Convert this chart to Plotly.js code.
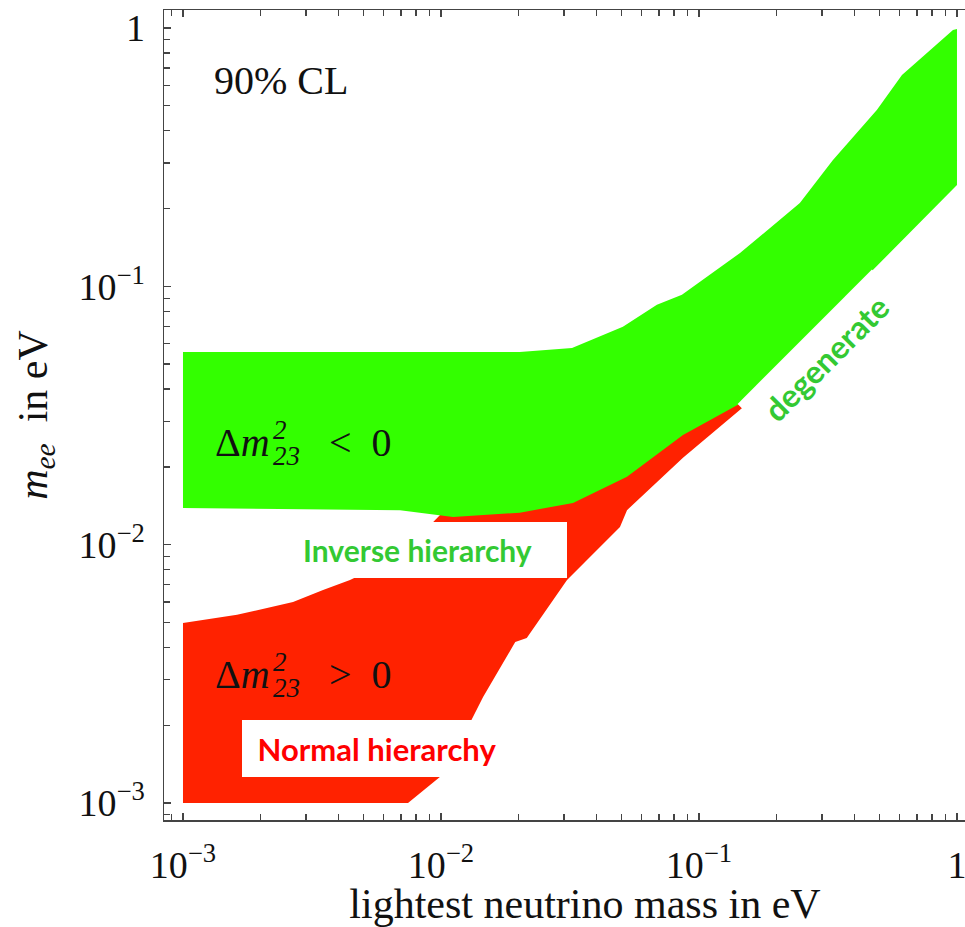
<!DOCTYPE html>
<html><head><meta charset="utf-8">
<script src="https://cdn.plot.ly/plotly-3.0.1.min.js"></script>
<style>
html,body{margin:0;padding:0;overflow:hidden;background:#fff;width:965px;height:927px}
#chart{width:1006px;height:927px}
</style>
</head><body><div id="chart"></div>
<script>
// Inverse hierarchy (Δm²23 < 0) band outline: upper edge left->right, then lower edge right->left
const inverseX = [0.001, 0.0202, 0.0322, 0.0507, 0.0687, 0.0859, 0.1442, 0.246, 0.330, 0.489, 0.612, 0.965, 1.0,
                  1.0, 0.472, 0.1416, 0.0867, 0.0526, 0.0325, 0.0202, 0.01114, 0.00694, 0.001];
const inverseY = [0.0557, 0.0557, 0.0577, 0.0697, 0.0848, 0.0927, 0.1346, 0.210, 0.308, 0.482, 0.658, 0.983, 0.992,
                  0.247, 0.1156, 0.0348, 0.0266, 0.0183, 0.0145, 0.0133, 0.0128, 0.0136, 0.01387];
// Normal hierarchy (Δm²23 > 0) band outline
const normalX = [0.001, 0.001, 0.00162, 0.00267, 0.00349, 0.00444, 0.00694, 0.0102, 0.0202, 0.0325, 0.0526, 0.0867, 0.1416,
                 0.147, 0.0867, 0.0526, 0.0494, 0.0308, 0.0215, 0.0194, 0.01456, 0.01295, 0.0099, 0.00745];
const normalY = [0.001, 0.00498, 0.00535, 0.0060, 0.00668, 0.0073, 0.00904, 0.0134, 0.0149, 0.0163, 0.0204, 0.0286, 0.0356,
                 0.0338, 0.0217, 0.0136, 0.0117, 0.0073, 0.00435, 0.0042, 0.00257, 0.00204, 0.00126, 0.001];

const tickVals = [0.001, 0.01, 0.1, 1];
const tickText = ['10<sup>\u22123</sup>', '10<sup>\u22122</sup>', '10<sup>\u22121</sup>', '1'];

const minorVals = [];
[0.0001, 0.001, 0.01, 0.1, 1].forEach(d => { for (let k = 2; k <= 9; k++) minorVals.push(k * d); });

const W = 1006, H = 927, ML = 164, MR = 0, MT = 10, MB = 107;
const PW = W - ML - MR, PH = H - MT - MB;
const px = v => (v - ML) / PW;
const py = v => (H - MB - v) / PH;

const serif = 'Liberation Serif, Times New Roman, serif';
const bold = 'Lato, Calibri, sans-serif';
const axisCol = '#444';

const traces = [
  {x: normalX, y: normalY, type: 'scatter', mode: 'lines', fill: 'toself',
   fillcolor: '#ff2200', line: {width: 0, color: '#ff2200'}, hoverinfo: 'skip', name: 'normal'},
  {x: inverseX, y: inverseY, type: 'scatter', mode: 'lines', fill: 'toself',
   fillcolor: '#33ff00', line: {width: 0, color: '#33ff00'}, hoverinfo: 'skip', name: 'inverse'}
];

function axis(range, titleText, standoff, labelStandoff) {
  return {
    type: 'log', range: range, autorange: false,
    tickmode: 'array', tickvals: tickVals, ticktext: tickText,
    ticks: 'inside', ticklen: 7, tickwidth: 1.3, tickcolor: axisCol,
    minor: {tickmode: 'array', tickvals: minorVals, ticks: 'inside', ticklen: 6, tickwidth: 1.3, tickcolor: axisCol, showgrid: false},
    showline: true, linecolor: axisCol, linewidth: 1.5, mirror: 'allticks',
    showgrid: false, zeroline: false,
    tickfont: {family: serif, size: 38, color: '#111'},
    ticklabelstandoff: labelStandoff,
    title: {text: titleText, font: {family: serif, size: 42, color: '#111'}, standoff: standoff},
    automargin: false
  };
}

const ann = [];
function label(text, x, y, opts) {
  ann.push(Object.assign({xref: 'paper', yref: 'paper', x: px(x), y: py(y), text: text, showarrow: false,
    borderpad: 0, borderwidth: 0, xanchor: 'left', yanchor: 'middle',
    font: {family: serif, size: 40, color: '#111'}}, opts || {}));
}
label('90% CL', 214, 80);
// Δm²23 < 0
label('\u0394<i>m</i>', 215, 442);
label('<i>2</i>', 273, 430, {font: {family: serif, size: 27, color: '#111'}});
label('<i>23</i>', 273, 456, {font: {family: serif, size: 27, color: '#111'}});
label('&lt;\u00a0\u00a00', 329, 442);
// Δm²23 > 0
label('\u0394<i>m</i>', 215, 674);
label('<i>2</i>', 273, 662, {font: {family: serif, size: 27, color: '#111'}});
label('<i>23</i>', 273, 688, {font: {family: serif, size: 27, color: '#111'}});
label('&gt;\u00a0\u00a00', 329, 674);
// boxed labels
label('<b>Inverse hierarchy</b>', 417.5, 550, {xanchor: 'center', bgcolor: '#ffffff', width: 299, height: 56,
  align: 'center', valign: 'middle', font: {family: bold, size: 30, color: '#33c933'}});
label('<b>Normal hierarchy</b>', 377, 748.5, {xanchor: 'center', bgcolor: '#ffffff', width: 270, height: 57,
  align: 'center', valign: 'middle', font: {family: bold, size: 31, color: '#ff0000'}});
label('<b>degenerate</b>', 826, 358, {xanchor: 'center', bgcolor: '#ffffff', width: 190, height: 60, textangle: -45,
  align: 'center', valign: 'middle', font: {family: bold, size: 32, color: '#33c933'}});

const layout = {
  width: W, height: H,
  margin: {l: ML, r: MR, t: MT, b: MB},
  paper_bgcolor: '#ffffff', plot_bgcolor: '#ffffff',
  showlegend: false,
  xaxis: axis([-3.0736, 0.19], 'lightest neutrino mass in eV', 10, 11),
  yaxis: axis([-3.0658, 0.0697], '<i>m</i><sub><i>ee</i></sub>\u00a0\u00a0in\u00a0eV', 18, 10),
  annotations: ann
};

Plotly.newPlot('chart', traces, layout, {staticPlot: true, displayModeBar: false});
</script>
</body></html>
